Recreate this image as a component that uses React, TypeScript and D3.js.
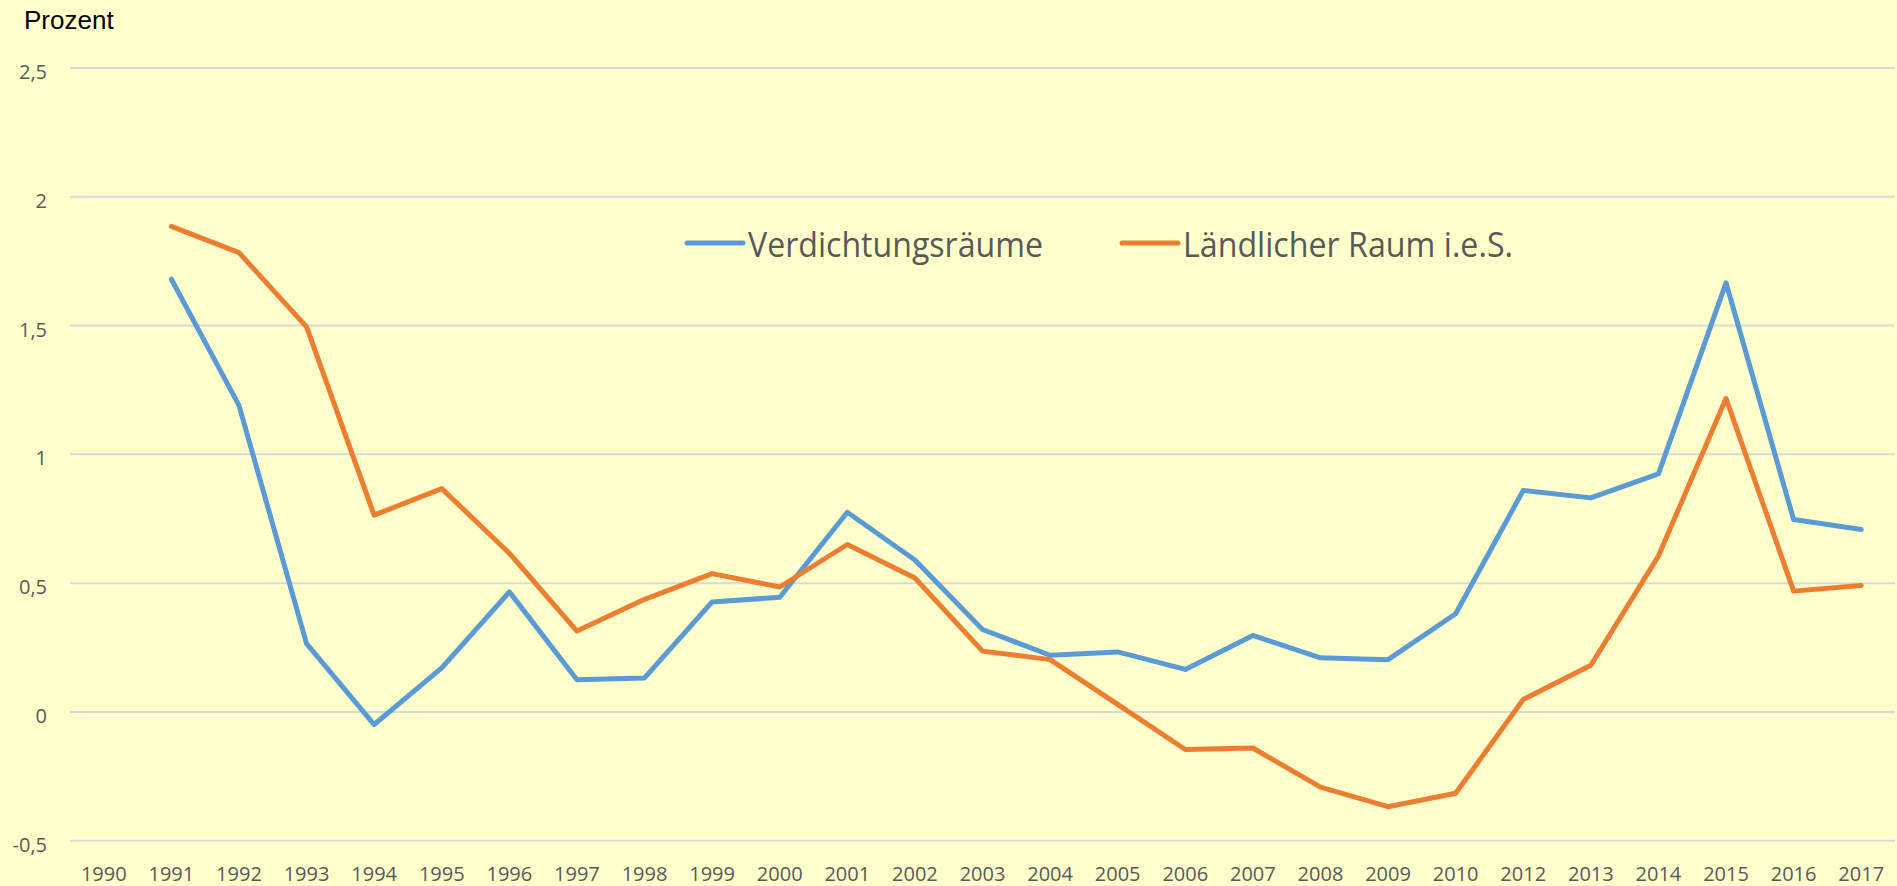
import React from "react";
import * as d3 from "d3";

const years = ["1990","1991","1992","1993","1994","1995","1996","1997","1998","1999","2000","2001","2002","2003","2004","2005","2006","2007","2008","2009","2010","2012","2013","2014","2015","2016","2017"];
const verdichtung: (number | null)[] = [null,1.68,1.19,0.265,-0.049,0.171,0.466,0.125,0.132,0.427,0.445,0.775,0.59,0.32,0.22,0.233,0.165,0.297,0.21,0.203,0.381,0.86,0.831,0.924,1.666,0.747,0.708];
const laendlich: (number | null)[] = [null,1.885,1.783,1.495,0.764,0.867,0.616,0.314,0.437,0.537,0.485,0.65,0.52,0.236,0.203,0.029,-0.146,-0.14,-0.292,-0.368,-0.316,0.048,0.181,0.605,1.217,0.469,0.491];
const yTicks = [-0.5, 0, 0.5, 1, 1.5, 2, 2.5];
const seriesNames = ["Verdichtungsräume", "Ländlicher Raum i.e.S."];
const seriesColors = ["#5B9BD5", "#ED7D31"];

const W = 1897, H = 886;
const left = 70, right = 1895, top = 68, bottom = 840.7;

export default function App() {
  const x = d3.scalePoint<string>().domain(years).range([left, right]).padding(0.5);
  const y = d3.scaleLinear().domain([-0.5, 2.5]).range([bottom, top]);
  const fmt = (v: number) => String(v).replace(".", ",");
  const line = d3
    .line<number | null>()
    .defined((d) => d !== null)
    .x((_, i) => x(years[i]) as number)
    .y((d) => y(d as number));
  const series = [verdichtung, laendlich];
  const legendX = [687, 1122];
  const legendLen = [295, 330];
  return (
    <svg width={W} height={H} style={{ position: "absolute", left: 0, top: 0, display: "block" }}>
      <rect x={0} y={0} width={W} height={H} fill="#FFFFCC" />
      <text x={24} y={29} fontFamily="Liberation Sans, Arial, sans-serif" fontSize={26} fill="#000">Prozent</text>
      {yTicks.map((t) => (
        <g key={t}>
          <line x1={left} x2={right} y1={y(t)} y2={y(t)} stroke="#D9D9D9" strokeWidth={2} />
          <text x={47} y={y(t) + 11} textAnchor="end" fontFamily="Open Sans, sans-serif" fontSize={20} fill="#595959">{fmt(t)}</text>
        </g>
      ))}
      {years.map((yr) => (
        <text key={yr} x={x(yr)} y={881} textAnchor="middle" fontFamily="Open Sans, sans-serif" fontSize={20} fill="#595959">{yr}</text>
      ))}
      {series.map((s, i) => (
        <path key={i} d={line(s) || ""} fill="none" stroke={seriesColors[i]} strokeWidth={5} strokeLinejoin="round" strokeLinecap="round" />
      ))}
      {seriesNames.map((n, i) => (
        <g key={n}>
          <line x1={legendX[i]} x2={legendX[i] + 56} y1={243} y2={243} stroke={seriesColors[i]} strokeWidth={5} strokeLinecap="round" />
          <text x={legendX[i] + 61} y={257} fontFamily="Open Sans, sans-serif" fontSize={34} fill="#595959" textLength={legendLen[i]} lengthAdjust="spacingAndGlyphs">{n}</text>
        </g>
      ))}
    </svg>
  );
}
